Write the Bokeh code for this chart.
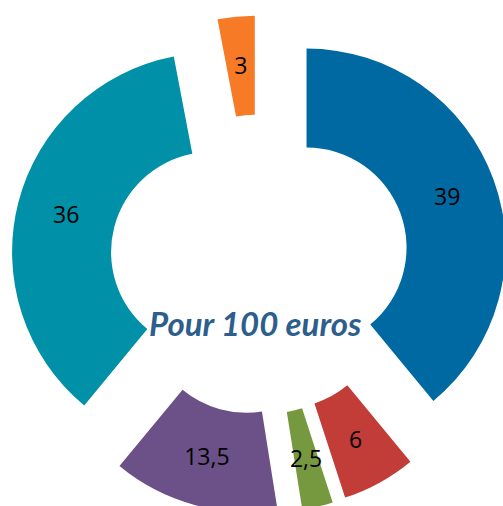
import numpy as np
from bokeh.plotting import figure
from bokeh.models import Range1d, ColumnDataSource
from bokeh.core.properties import value
from bokeh.embed import file_html
from bokeh.resources import INLINE

values = [39, 6, 2.5, 13.5, 36, 3]
labels = ["39", "6", "2,5", "13,5", "36", "3"]
colors = ["#0069a1", "#c23d38", "#76993f", "#6b5187", "#0090a8", "#f77a26"]
title_text = "Pour 100 euros"

W, H = 503, 506
cx, cy = 259, 242
r_in, r_out, explode = 100, 199, 50

v = np.array(values, dtype=float)
cum = np.cumsum(v) / v.sum() * 2 * np.pi
start_cw = np.concatenate([[0], cum[:-1]])
end_cw = cum
mid = (start_cw + end_cw) / 2
xs = cx + explode * np.sin(mid)
ys = cy + explode * np.cos(mid)
start_ang = np.pi / 2 - end_cw
end_ang = np.pi / 2 - start_cw
r_lab = (r_in + r_out) / 2
lx = xs + r_lab * np.sin(mid)
ly = ys + r_lab * np.cos(mid)

src = ColumnDataSource(dict(x=xs, y=ys, s=start_ang, e=end_ang, c=colors,
                            lx=lx, ly=ly, t=labels))

p = figure(width=W, height=H, output_backend="svg", toolbar_location=None,
           x_range=Range1d(0, W), y_range=Range1d(0, H), min_border=0)
p.axis.visible = False
p.grid.visible = False
p.outline_line_color = None

p.annular_wedge(x="x", y="y", inner_radius=r_in, outer_radius=r_out,
                start_angle="s", end_angle="e", fill_color="c",
                line_color=None, source=src)
p.text(x="lx", y="ly", text="t", source=src, text_align="center",
       text_baseline="middle", text_font=value("Open Sans"),
       text_font_size="23px", text_color="#000000")
p.text(x=[255], y=[506 - 322], text=[title_text], text_align="center",
       text_baseline="middle", text_font=value("Lato"),
       text_font_style="bold italic", text_font_size="33px",
       text_color="#2d5e8c")

open("out.html", "w").write(file_html(p, INLINE))
